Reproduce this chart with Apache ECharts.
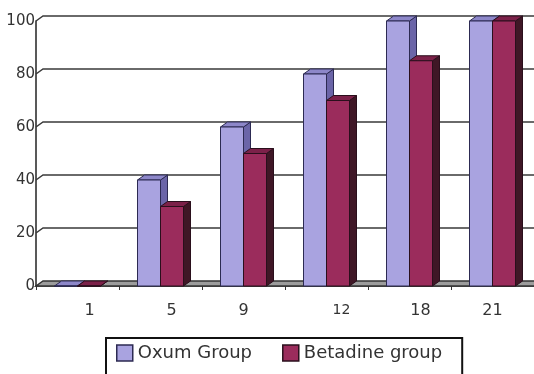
<!DOCTYPE html>
<html>
<head>
<meta charset="utf-8">
<script src="https://cdn.jsdelivr.net/npm/echarts@6/dist/echarts.min.js"></script>
<style>
  html, body { margin: 0; padding: 0; background: #ffffff; }
  #chart { width: 534px; height: 374px; }
</style>
</head>
<body>
<div id="chart"></div>
<script>
// Wound healing (%) by day, two treatment groups
const days = ['1', '5', '9', '12', '18', '21'];
const oxumGroup = [0, 40, 60, 80, 100, 100];
const betadineGroup = [0, 30, 50, 70, 85, 100];
const yTicks = [0, 20, 40, 60, 80, 100];

// depth of the pseudo-3D extrusion
const DX = 7, DY = 5;
const BAR_W = 23;

const faces = [
  { front: '#a9a3e0', top: '#8d87c9', side: '#6b65a8', edge: '#2c2a52' },
  { front: '#9b2c5c', top: '#7c2149', side: '#3f1726', edge: '#2a0f1c' }
];

function barRenderer(seriesIdx) {
  const f = faces[seriesIdx];
  return function (params, api) {
    const cat = api.value(0);
    const val = api.value(1);
    const base = api.coord([cat, 0]);
    const top = api.coord([cat, val]);
    const x = base[0] - BAR_W + seriesIdx * BAR_W;
    const yB = base[1];
    const yT = top[1];
    const stroke = { stroke: f.edge, lineWidth: 1 };
    return {
      type: 'group',
      children: [
        {
          type: 'polygon',
          shape: { points: [[x + BAR_W, yT], [x + BAR_W + DX, yT - DY], [x + BAR_W + DX, yB - DY], [x + BAR_W, yB]] },
          style: Object.assign({ fill: f.side }, stroke)
        },
        {
          type: 'polygon',
          shape: { points: [[x, yT], [x + DX, yT - DY], [x + BAR_W + DX, yT - DY], [x + BAR_W, yT]] },
          style: Object.assign({ fill: f.top }, stroke)
        },
        {
          type: 'rect',
          shape: { x: x, y: yT, width: BAR_W, height: yB - yT },
          style: Object.assign({ fill: f.front }, stroke)
        }
      ]
    };
  };
}

// back-wall gridlines and floor
function wallRenderer(params, api) {
  const cs = params.coordSys;
  const v = api.value(1);
  const y = api.coord([0, v])[1];
  const x0 = cs.x;
  const x1 = cs.x + cs.width + 20;
  if (v === 0) {
    return {
      type: 'polygon',
      shape: { points: [[x0, y], [x0 + DX, y - DY], [x1, y - DY], [x1, y]] },
      style: { fill: '#9c9c9c', stroke: '#333333', lineWidth: 1.5 }
    };
  }
  return {
    type: 'polyline',
    shape: { points: [[x0, y], [x0 + DX, y - DY], [x1, y - DY]] },
    style: { fill: null, stroke: '#3a3a3a', lineWidth: 1.5 }
  };
}

const chart = echarts.init(document.getElementById('chart'), null, { renderer: 'canvas' });

chart.setOption({
  animation: false,
  backgroundColor: '#ffffff',
  textStyle: { fontFamily: 'DejaVu Sans' },
  grid: { left: 36, top: 21, width: 500, height: 265, containLabel: false },
  legend: {
    left: 106,
    top: 338,
    orient: 'horizontal',
    itemWidth: 16,
    itemHeight: 16,
    itemGap: 30,
    icon: 'rect',
    padding: [6, 20, 22, 10],
    borderColor: '#111111',
    borderWidth: 2,
    textStyle: { fontFamily: 'DejaVu Sans', fontSize: 18, color: '#333333' },
    itemStyle: { borderWidth: 1.5 },
    data: ['Oxum Group', 'Betadine group']
  },
  xAxis: {
    type: 'category',
    data: days,
    axisLine: { show: true, lineStyle: { color: '#222222', width: 1.5 } },
    axisTick: { show: true, length: 4, lineStyle: { color: '#333333' } },
    axisLabel: {
      interval: 0,
      hideOverlap: false,
      margin: 17,
      fontSize: 16,
      color: '#333333',
      fontFamily: 'DejaVu Sans',
      formatter: function (value, index) { return '{c' + index + '|' + value + '}'; },
      rich: {
        c0: { padding: [0, 0, 0, 24] },
        c1: { padding: [0, 0, 0, 22] },
        c2: { padding: [0, 0, 0, 0] },
        c3: { padding: [0, 0, 0, 30], fontSize: 14 },
        c4: { padding: [0, 0, 0, 22] },
        c5: { padding: [0, 0, 0, 0] }
      }
    },
    splitLine: { show: false }
  },
  yAxis: {
    type: 'value',
    min: 0,
    max: 100,
    interval: 20,
    axisLine: { show: true, lineStyle: { color: '#222222', width: 1.5 } },
    axisTick: { show: false },
    axisLabel: { margin: 1, fontSize: 15, color: '#333333', fontFamily: 'DejaVu Sans' },
    splitLine: { show: false }
  },
  series: [
    {
      name: 'wall',
      type: 'custom',
      renderItem: wallRenderer,
      data: yTicks.map(function (v) { return [0, v]; }),
      encode: { x: 0, y: 1 },
      z: 1,
      silent: true
    },
    {
      name: 'Oxum Group',
      type: 'custom',
      renderItem: barRenderer(0),
      itemStyle: { color: faces[0].front, borderColor: faces[0].edge },
      data: oxumGroup.map(function (v, i) { return [i, v]; }),
      encode: { x: 0, y: 1 },
      z: 2
    },
    {
      name: 'Betadine group',
      type: 'custom',
      renderItem: barRenderer(1),
      itemStyle: { color: faces[1].front, borderColor: faces[1].edge },
      data: betadineGroup.map(function (v, i) { return [i, v]; }),
      encode: { x: 0, y: 1 },
      z: 3
    }
  ]
});
</script>
</body>
</html>
